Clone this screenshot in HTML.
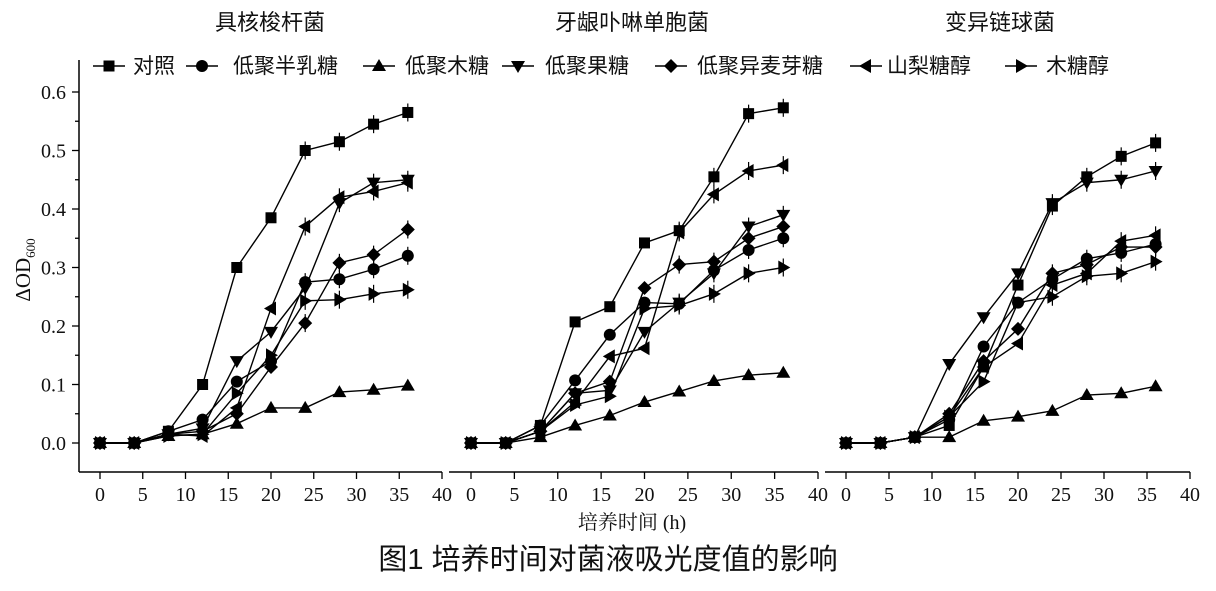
<!DOCTYPE html>
<html><head><meta charset="utf-8"><style>
body{margin:0;background:#fff}
svg{display:block}
text{font-family:"Liberation Serif","Noto Serif CJK SC",serif;fill:#111}
.cj{font-family:"Liberation Sans","Noto Sans CJK SC",sans-serif}
</style></head><body>
<svg id="s" width="1216" height="591" viewBox="0 0 1216 591" xmlns="http://www.w3.org/2000/svg">
<text x="270" y="30" font-size="22" text-anchor="middle" class="cj">具核梭杆菌</text>
<text x="632" y="30" font-size="22" text-anchor="middle" class="cj">牙龈卟啉单胞菌</text>
<text x="1000" y="30" font-size="22" text-anchor="middle" class="cj">变异链球菌</text>
<text x="632" y="529" font-size="20" text-anchor="middle">培养时间 (h)</text>
<text x="608" y="569" font-size="29" text-anchor="middle" class="cj">图1 培养时间对菌液吸光度值的影响</text>
<text transform="translate(30,270) rotate(-90)" font-size="21" text-anchor="middle">ΔOD<tspan font-size="13" dy="5">600</tspan></text>
<g id="g"></g>
</svg>
<script>
const NS="http://www.w3.org/2000/svg",g=document.getElementById('g');
function el(t,a,txt){const e=document.createElementNS(NS,t);for(const k in a)e.setAttribute(k,a[k]);if(txt!=null)e.textContent=txt;g.appendChild(e);return e;}
const y0=443,ys=585;const Y=v=>y0-v*ys;
el('line',{x1:79,y1:60,x2:79,y2:472,stroke:'#000','stroke-width':1.5});
for(let i=0;i<=12;i++){const v=i*0.05;const big=i%2==0;el('line',{x1:big?72:75,y1:Y(v),x2:79,y2:Y(v),stroke:'#000','stroke-width':1.3});
if(big)el('text',{x:66,y:Y(v)+7,'font-size':20,'text-anchor':'end'},(v).toFixed(1));}
function marker(type,x,y){let p;
switch(type){
case 0:el('rect',{x:x-5.5,y:y-5.5,width:11,height:11,fill:'#000'});return;
case 1:el('circle',{cx:x,cy:y,r:6,fill:'#000'});return;
case 2:p=[[x,y-7],[x+7,y+5],[x-7,y+5]];break;
case 3:p=[[x,y+7],[x+7,y-5],[x-7,y-5]];break;
case 4:p=[[x,y-7],[x+7,y],[x,y+7],[x-7,y]];break;
case 5:p=[[x-7,y],[x+5,y-7],[x+5,y+7]];break;
case 6:p=[[x+7,y],[x-5,y-7],[x-5,y+7]];break;}
el('polygon',{points:p.map(q=>q.join(',')).join(' '),fill:'#000'});}
const T=[0,4,8,12,16,20,24,28,32,36];
const P=[
{x0:100,x40:442,a0:79,a1:442,d:[
[0,0,.02,.10,.30,.385,.50,.515,.545,.565],
[0,0,.02,.04,.105,.14,.275,.28,.297,.32],
[0,0,.012,.015,.033,.06,.06,.087,.091,.098],
[0,0,.015,.025,.14,.19,.265,.41,.445,.45],
[0,0,.015,.02,.05,.13,.205,.308,.322,.365],
[0,0,.015,.012,.06,.23,.37,.42,.43,.445],
[0,0,.012,.015,.085,.15,.243,.245,.255,.262]]},
{x0:471,x40:818,a0:449,a1:818,d:[
[0,0,.03,.207,.233,.342,.363,.455,.563,.573],
[0,0,.03,.107,.185,.24,.238,.295,.33,.35],
[0,0,.01,.03,.047,.07,.088,.106,.116,.12],
[0,0,.02,.085,.09,.19,.24,.29,.37,.39],
[0,0,.02,.085,.105,.265,.305,.31,.35,.37],
[0,0,.02,.07,.148,.162,.36,.425,.465,.475],
[0,0,.02,.065,.08,.23,.235,.255,.29,.30]]},
{x0:846,x40:1190,a0:825,a1:1190,d:[
[0,0,.01,.03,.13,.27,.405,.455,.49,.513],
[0,0,.01,.04,.165,.24,.28,.315,.325,.34],
[0,0,.01,.01,.038,.045,.055,.082,.085,.097],
[0,0,.01,.135,.215,.29,.41,.445,.45,.465],
[0,0,.01,.05,.14,.195,.29,.305,.335,.335],
[0,0,.01,.045,.13,.17,.27,.29,.345,.355],
[0,0,.01,.045,.105,.24,.25,.285,.29,.31]]}];
P.forEach(p=>{const X=t=>p.x0+(p.x40-p.x0)*t/40;
el('line',{x1:p.a0,y1:472,x2:p.a1,y2:472,stroke:'#000','stroke-width':1.5});
for(let t=0;t<=40;t+=5){el('line',{x1:X(t),y1:472,x2:X(t),y2:479,stroke:'#000','stroke-width':1.3});
el('text',{x:X(t),y:501,'font-size':20,'text-anchor':'middle'},t);}
p.d.forEach((d,k)=>{el('polyline',{points:T.map((t,i)=>X(t)+','+Y(d[i])).join(' '),fill:'none',stroke:'#000','stroke-width':1.4});});
p.d.forEach((d,k)=>{T.forEach((t,i)=>{if(i>=6&&k!=2){el('line',{x1:X(t),y1:Y(d[i])-9,x2:X(t),y2:Y(d[i])+9,stroke:'#000','stroke-width':1.2});}marker(k,X(t),Y(d[i]));});});
});
const L=[[93,133,'对照'],[186,233,'低聚半乳糖'],[363,405,'低聚木糖'],[502,545,'低聚果糖'],[655,697,'低聚异麦芽糖'],[850,887,'山梨糖醇'],[1005,1046,'木糖醇']];
L.forEach((l,k)=>{el('line',{x1:l[0],y1:66,x2:l[0]+32,y2:66,stroke:'#000','stroke-width':1.5});marker(k,l[0]+16,66);
const t=el('text',{x:l[1],y:73,'font-size':21},l[2]);t.setAttribute('class','cj');});
</script>
</body></html>
